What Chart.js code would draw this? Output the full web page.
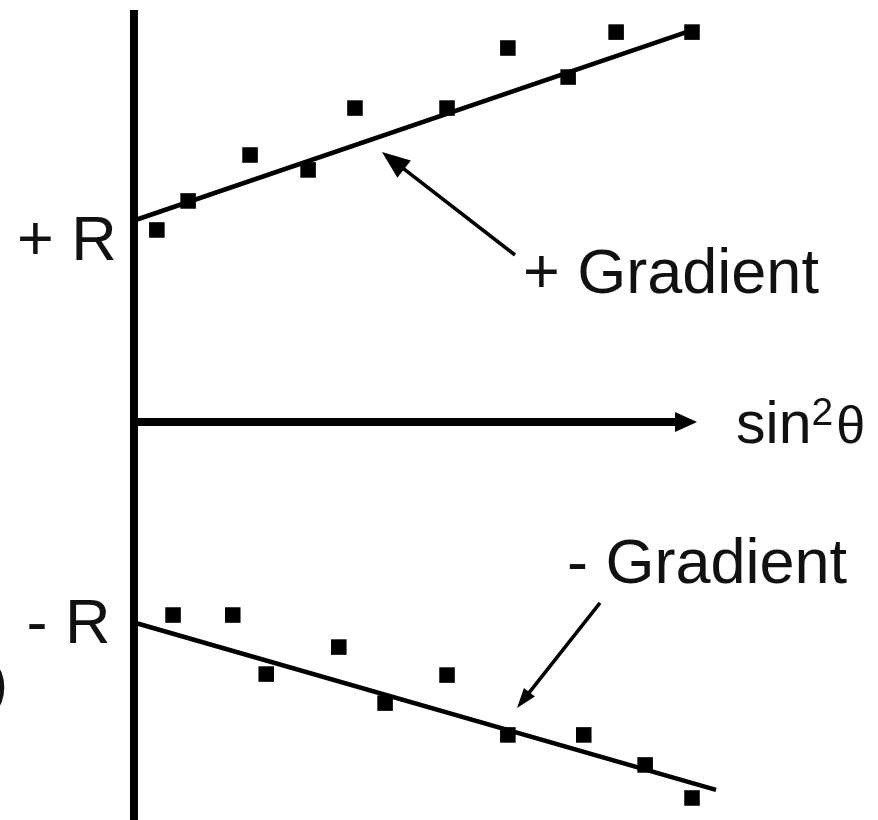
<!DOCTYPE html>
<html>
<head>
<meta charset="utf-8">
<script src="https://cdn.jsdelivr.net/npm/chart.js@4.4.1/dist/chart.umd.min.js"></script>
<style>
html, body { margin: 0; padding: 0; background: #fff; }
#wrap { width: 878px; height: 820px; }
</style>
</head>
<body>
<div id="wrap"><canvas id="grafico"></canvas></div>
<script>
// --- Medidas: + gradiente
const sin2Pos = [0.041, 0.097, 0.208, 0.312, 0.396, 0.561, 0.670, 0.778, 0.864, 1.000];
const rPos    = [0.953, 1.097, 1.325, 1.251, 1.558, 1.558, 1.856, 1.712, 1.935, 1.935];

// --- Medidas: - gradiente
const sin2Neg = [0.070, 0.177, 0.237, 0.367, 0.450, 0.561, 0.670, 0.806, 0.916, 1.000];
const rNeg    = [-0.958, -0.958, -1.251, -1.117, -1.395, -1.256, -1.553, -1.553, -1.702, -1.866];

// --- Retas ajustadas (extremos)
const fitPosX = [0, 1.011];
const fitPosY = [1.0, 1.955];
const fitNegX = [0, 1.043];
const fitNegY = [-0.995, -1.826];

// --- Limites das escalas
const xRange = [-0.2401, 1.3333];
const yRange = [-1.9752, 2.0943];
const axisTop = 2.045;   // topo do eixo vertical
const axisEnd = 1.009;   // ponta da seta de sin²θ

// --- Rótulos e setas (em unidades dos dados)
const rotulos = [
    { text: "+ R", x: -0.2097, y: 0.804, size: 63 },
    { text: "- R", x: -0.1927, y: -1.097, size: 63 },
    { text: "+ Gradient", x: 0.6971, y: 0.640, size: 63 },
    { text: "- Gradient", x: 0.776, y: -0.799, size: 63 },
    { text: ")", x: -0.2616, y: -1.395, size: 60 }
];
const setas = [
    { from: [0.6828, 0.8288], to: [0.4444, 1.340], head: 28, half: 11 },
    { from: [0.8351, -0.898], to: [0.6864, -1.419], head: 20, half: 7 }
];

function pares(xs, ys) {
    return xs.map((v, i) => ({ x: v, y: ys[i] }));
}

function desenharSeta(ctx, x1, y1, x2, y2, head, half) {
    const ang = Math.atan2(y2 - y1, x2 - x1);
    const bx = x2 - head * Math.cos(ang), by = y2 - head * Math.sin(ang);
    ctx.beginPath();
    ctx.moveTo(x1, y1);
    ctx.lineTo(bx + 2 * Math.cos(ang), by + 2 * Math.sin(ang));
    ctx.stroke();
    ctx.beginPath();
    ctx.moveTo(x2, y2);
    ctx.lineTo(bx + half * Math.sin(ang), by - half * Math.cos(ang));
    ctx.lineTo(bx - half * Math.sin(ang), by + half * Math.cos(ang));
    ctx.closePath();
    ctx.fill();
}

const fonte = '"Liberation Sans", Arial, Helvetica, sans-serif';

const eixosPlugin = {
    id: "eixos",
    beforeDatasetsDraw(chart) {
        const { ctx, scales: { x, y } } = chart;
        const x0 = x.getPixelForValue(0), y0 = y.getPixelForValue(0);
        const tip = x.getPixelForValue(axisEnd);
        ctx.save();
        ctx.strokeStyle = "#000";
        ctx.fillStyle = "#000";
        ctx.lineWidth = 8;
        ctx.beginPath();
        ctx.moveTo(x0, y.getPixelForValue(axisTop));
        ctx.lineTo(x0, chart.height);
        ctx.stroke();
        ctx.beginPath();
        ctx.moveTo(x0, y0);
        ctx.lineTo(tip - 20, y0);
        ctx.stroke();
        ctx.beginPath();
        ctx.moveTo(tip, y0);
        ctx.lineTo(tip - 22, y0 - 10);
        ctx.lineTo(tip - 22, y0 + 10);
        ctx.closePath();
        ctx.fill();
        ctx.restore();
    },
    afterDatasetsDraw(chart) {
        const { ctx, scales: { x, y } } = chart;
        ctx.save();
        ctx.strokeStyle = "#000";
        ctx.fillStyle = "#000";
        ctx.lineWidth = 3.5;
        setas.forEach(s => {
            desenharSeta(ctx,
                x.getPixelForValue(s.from[0]), y.getPixelForValue(s.from[1]),
                x.getPixelForValue(s.to[0]), y.getPixelForValue(s.to[1]),
                s.head, s.half);
        });
        ctx.fillStyle = "#111";
        ctx.textAlign = "left";
        ctx.textBaseline = "alphabetic";
        rotulos.forEach(r => {
            ctx.font = r.size + "px " + fonte;
            ctx.fillText(r.text, x.getPixelForValue(r.x), y.getPixelForValue(r.y));
        });
        // --- sin²θ
        let px = x.getPixelForValue(1.0789);
        const py = y.getPixelForValue(-0.104);
        ctx.font = "59px " + fonte;
        ctx.fillText("sin", px, py);
        px += ctx.measureText("sin").width;
        ctx.font = "39px " + fonte;
        ctx.fillText("2", px, py - 18);
        px += ctx.measureText("2").width + 3;
        ctx.font = "52px " + fonte;
        ctx.fillText("θ", px, py);
        ctx.restore();
    }
};

const ctx = document.getElementById("grafico").getContext("2d");
new Chart(ctx, {
    type: "scatter",
    data: {
        datasets: [
            {
                label: "+ Gradient",
                data: pares(sin2Pos, rPos),
                pointStyle: "rect",
                pointRadius: 11,
                backgroundColor: "#000",
                borderWidth: 0
            },
            {
                label: "- Gradient",
                data: pares(sin2Neg, rNeg),
                pointStyle: "rect",
                pointRadius: 11,
                backgroundColor: "#000",
                borderWidth: 0
            },
            {
                label: "fit +",
                data: pares(fitPosX, fitPosY),
                showLine: true,
                pointRadius: 0,
                borderColor: "#000",
                borderWidth: 4.5
            },
            {
                label: "fit -",
                data: pares(fitNegX, fitNegY),
                showLine: true,
                pointRadius: 0,
                borderColor: "#000",
                borderWidth: 4.5
            }
        ]
    },
    options: {
        responsive: true,
        maintainAspectRatio: false,
        animation: false,
        events: [],
        layout: { padding: 0, autoPadding: false },
        plugins: { legend: { display: false }, tooltip: { enabled: false } },
        scales: {
            x: { type: "linear", min: xRange[0], max: xRange[1], display: false },
            y: { type: "linear", min: yRange[0], max: yRange[1], display: false }
        }
    },
    plugins: [eixosPlugin]
});
</script>
</body>
</html>
